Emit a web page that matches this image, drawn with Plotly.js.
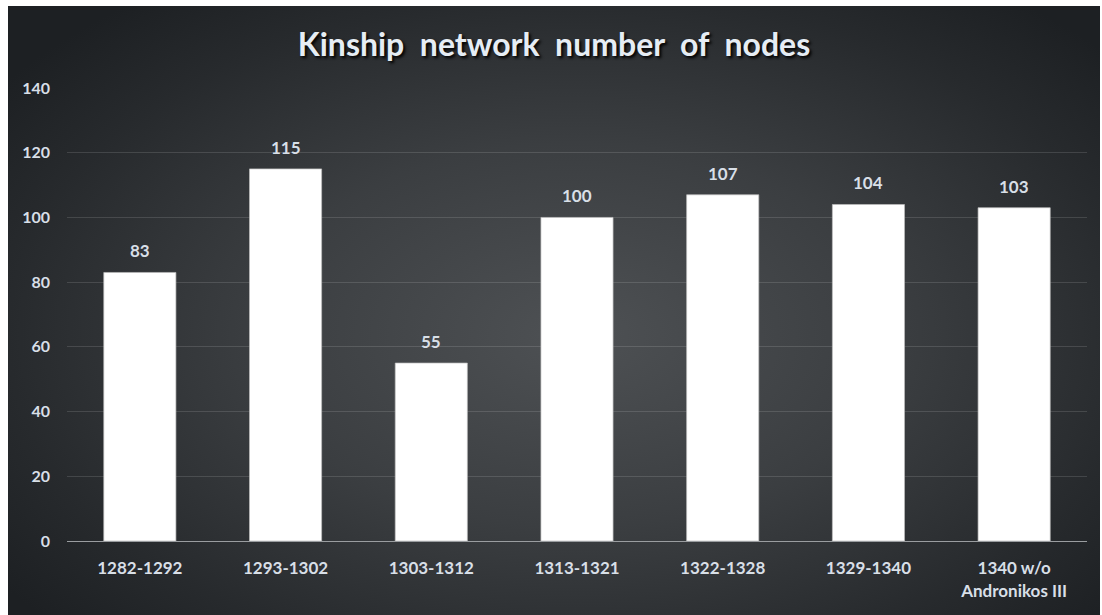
<!DOCTYPE html>
<html>
<head>
<meta charset="utf-8">
<script src="https://cdn.plot.ly/plotly-3.0.1.min.js"></script>
<style>
  html, body { margin:0; padding:0; background:#ffffff; width:1102px; height:615px; overflow:hidden; }
  #chart {
    position:absolute; left:8px; top:6px; width:1092px; height:609px;
    background: radial-gradient(ellipse 65% 70% at 52% 54%, #4e5154 0%, #3b3e41 45%, #272a2d 80%, #1d2023 100%);
  }
</style>
</head>
<body>
<div id="chart"></div>
<script>
const categories = ['1282-1292', '1293-1302', '1303-1312', '1313-1321', '1322-1328', '1329-1340', '1340 w/o<br>Andronikos III'];
const nodeCounts = [83, 115, 55, 100, 107, 104, 103];
const yTicks = [0, 20, 40, 60, 80, 100, 120, 140];

const fontFam = 'Lato, "Open Sans", sans-serif';
const labelColor = '#d8dfe7';

const trace = {
  type: 'bar',
  x: categories,
  y: nodeCounts,
  marker: { color: '#ffffff', line: { color: 'rgba(190,190,190,0.7)', width: 1 } },
  hoverinfo: 'none'
};

const valueLabels = categories.map((c, i) => ({
  x: c,
  y: nodeCounts[i],
  xref: 'x', yref: 'y',
  text: String(nodeCounts[i]),
  showarrow: false,
  yanchor: 'bottom',
  yshift: 9,
  font: { family: fontFam, size: 17, color: labelColor, weight: 'bold' }
}));

const layout = {
  width: 1092,
  height: 609,
  paper_bgcolor: 'rgba(0,0,0,0)',
  plot_bgcolor: 'rgba(0,0,0,0)',
  margin: { l: 59, r: 13, t: 82, b: 74 },
  bargap: 0.505,
  showlegend: false,
  annotations: valueLabels,
  title: {
    text: 'Kinship  network  number  of  nodes',
    x: 0.5, xanchor: 'center',
    y: 0.937, yanchor: 'middle',
    font: { family: fontFam, size: 32, color: '#e6edf4', weight: 'bold', shadow: '2px 2px 3px #000000' }
  },
  xaxis: {
    type: 'category',
    showgrid: false,
    zeroline: false,
    showline: true,
    linecolor: '#9a9da0',
    linewidth: 1,
    ticks: '',
    ticklabelstandoff: 12,
    tickfont: { family: fontFam, size: 17, color: labelColor, weight: 'bold' }
  },
  yaxis: {
    range: [0, 140],
    tickvals: yTicks,
    ticktext: yTicks.map(String),
    showgrid: true,
    gridcolor: 'rgba(255,255,255,0.13)',
    gridwidth: 1,
    zeroline: false,
    showline: false,
    ticks: '',
    ticklabelstandoff: 16,
    tickfont: { family: fontFam, size: 16, color: labelColor, weight: 'bold' }
  }
};

Plotly.newPlot('chart', [trace], layout, { staticPlot: true, displayModeBar: false });
</script>
</body>
</html>
